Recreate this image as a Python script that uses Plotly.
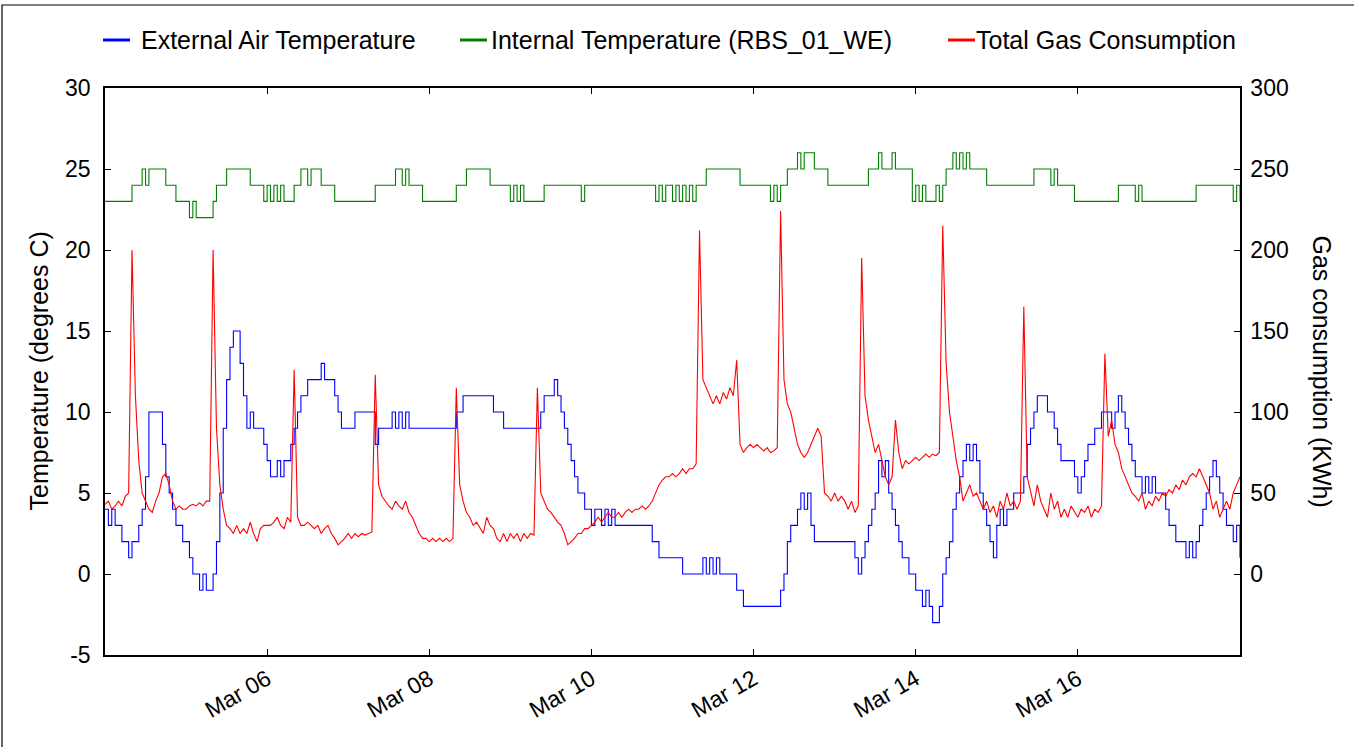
import pandas as pd
import plotly.graph_objects as go

# ---------------- data (hourly, Mar 4 00:00 -> Mar 18 00:00) ----------------
start_date = "2014-03-04 00:00"

ext_temp = [
    4, 3, 4, 3, 3, 2, 2, 1, 2, 2, 3, 4, 6, 10, 10, 10, 10, 8, 6, 5, 4, 3, 3, 2,          # Mar 4
    2, 1, 0, 0, -1, 0, -1, -1, 0, 2, 5, 9, 12, 14, 15, 15, 13, 11, 9, 10, 9, 9, 9, 8,    # Mar 5
    7, 6, 6, 7, 6, 7, 7, 8, 9, 10, 11, 11, 12, 12, 12, 12, 13, 12, 12, 12, 11, 10, 9, 9, # Mar 6
    9, 9, 10, 10, 10, 10, 10, 10, 8, 9, 9, 9, 9, 10, 9, 10, 9, 10, 9, 9, 9, 9, 9, 9,     # Mar 7
    9, 9, 9, 9, 9, 9, 9, 9, 10, 10, 11, 11, 11, 11, 11, 11, 11, 11, 11, 10, 10, 10, 9, 9, # Mar 8
    9, 9, 9, 9, 9, 9, 9, 9, 9, 10, 11, 11, 11, 12, 11, 10, 9, 8, 7, 6, 5, 5, 4, 4,       # Mar 9
    3, 4, 4, 3, 4, 3, 4, 3, 3, 3, 3, 3, 3, 3, 3, 3, 3, 3, 2, 2, 1, 1, 1, 1,              # Mar 10
    1, 1, 1, 0, 0, 0, 0, 0, 0, 1, 0, 1, 0, 1, 0, 0, 0, 0, 0, -1, -1, -2, -2, -2,         # Mar 11
    -2, -2, -2, -2, -2, -2, -2, -2, -1, 0, 2, 3, 3, 4, 5, 4, 5, 3, 2, 2, 2, 2, 2, 2,     # Mar 12
    2, 2, 2, 2, 2, 2, 1, 0, 1, 2, 3, 4, 5, 7, 6, 7, 5, 4, 3, 2, 1, 1, 0, 0,              # Mar 13
    -1, -1, -2, -1, -2, -3, -3, -2, 0, 1, 2, 4, 5, 6, 7, 8, 7, 8, 7, 5, 4, 3, 2, 1,      # Mar 14
    3, 4, 3, 4, 4, 5, 5, 5, 6, 8, 9, 10, 11, 11, 11, 10, 10, 9, 8, 7, 7, 7, 7, 6,        # Mar 15
    5, 6, 7, 8, 8, 9, 9, 10, 10, 10, 9, 10, 11, 10, 9, 8, 7, 6, 6, 5, 6, 5, 6, 5,        # Mar 16
    5, 5, 4, 3, 3, 2, 2, 2, 1, 2, 1, 2, 3, 4, 5, 6, 7, 6, 5, 4, 3, 3, 2, 3,              # Mar 17
    1,
]

int_temp = [
    23, 23, 23, 23, 23, 23, 23, 23, 24, 24, 24, 25, 24, 25, 25, 25, 25, 25, 24, 24, 24, 23, 23, 23,  # Mar 4
    23, 22, 23, 22, 22, 22, 22, 22, 23, 24, 24, 24, 25, 25, 25, 25, 25, 25, 25, 24, 24, 24, 24, 23,  # Mar 5
    24, 23, 24, 23, 24, 23, 23, 23, 24, 24, 25, 25, 24, 25, 25, 25, 24, 24, 24, 24, 23, 23, 23, 23,  # Mar 6
    23, 23, 23, 23, 23, 23, 23, 23, 24, 24, 24, 24, 24, 24, 25, 25, 24, 25, 24, 24, 24, 24, 23, 23,  # Mar 7
    23, 23, 23, 23, 23, 23, 23, 23, 24, 24, 24, 25, 25, 25, 25, 25, 25, 25, 24, 24, 24, 24, 24, 24,  # Mar 8
    23, 24, 23, 24, 23, 23, 23, 23, 23, 23, 24, 24, 24, 24, 24, 24, 24, 24, 24, 24, 24, 23, 24, 24,  # Mar 9
    24, 24, 24, 24, 24, 24, 24, 24, 24, 24, 24, 24, 24, 24, 24, 24, 24, 24, 24, 23, 24, 23, 24, 24,  # Mar 10
    23, 24, 23, 24, 23, 24, 23, 24, 24, 24, 25, 25, 25, 25, 25, 25, 25, 25, 25, 25, 24, 24, 24, 24,  # Mar 11
    24, 24, 24, 24, 24, 23, 24, 23, 24, 24, 25, 25, 25, 26, 25, 26, 26, 26, 25, 25, 25, 25, 24, 24,  # Mar 12
    24, 24, 24, 24, 24, 24, 24, 24, 24, 24, 25, 25, 25, 26, 25, 25, 25, 26, 25, 25, 25, 25, 25, 23,  # Mar 13
    24, 23, 24, 23, 23, 23, 24, 23, 24, 25, 25, 26, 25, 26, 25, 26, 25, 25, 25, 25, 25, 24, 24, 24,  # Mar 14
    24, 24, 24, 24, 24, 24, 24, 24, 24, 24, 24, 25, 25, 25, 25, 25, 24, 25, 24, 24, 24, 24, 24, 23,  # Mar 15
    23, 23, 23, 23, 23, 23, 23, 23, 23, 23, 23, 23, 24, 24, 24, 24, 24, 23, 24, 23, 23, 23, 23, 23,  # Mar 16
    23, 23, 23, 23, 23, 23, 23, 23, 23, 23, 23, 24, 24, 24, 24, 24, 24, 24, 24, 24, 24, 24, 23, 24,  # Mar 17
    23,
]

gas = [
    43, 45, 40, 42, 45, 42, 48, 50, 200, 110, 70, 50, 45, 40, 38, 45, 50, 60, 62, 55, 45, 40, 42, 40,          # Mar 4
    40, 42, 43, 42, 44, 42, 45, 45, 200, 90, 55, 40, 30, 28, 25, 30, 25, 28, 25, 32, 25, 20, 28, 30,           # Mar 5
    30, 30, 32, 35, 30, 28, 35, 32, 126, 35, 30, 30, 32, 30, 28, 30, 25, 28, 30, 25, 22, 18, 20, 22,           # Mar 6
    25, 22, 25, 23, 25, 24, 25, 26, 123, 55, 48, 45, 42, 40, 45, 42, 40, 45, 38, 35, 30, 25, 22, 22,           # Mar 7
    20, 22, 20, 22, 20, 22, 20, 22, 115, 55, 45, 38, 35, 30, 32, 28, 25, 35, 30, 28, 22, 20, 25, 20,           # Mar 8
    25, 22, 25, 20, 25, 22, 25, 24, 115, 50, 45, 40, 38, 35, 32, 30, 25, 18, 20, 22, 25, 25, 28, 28,           # Mar 9
    30, 32, 35, 32, 35, 38, 35, 35, 38, 35, 38, 40, 38, 40, 40, 42, 40, 42, 45, 50, 55, 58, 60, 60,            # Mar 10
    62, 60, 62, 65, 62, 65, 65, 68, 212, 120, 115, 110, 105, 110, 105, 112, 108, 115, 110, 132, 80, 75, 78, 80, # Mar 11
    78, 80, 78, 76, 78, 75, 76, 78, 224, 120, 105, 100, 90, 80, 75, 72, 75, 80, 85, 90, 85, 50, 48, 45,        # Mar 12
    50, 45, 48, 45, 40, 45, 38, 42, 195, 110, 95, 85, 75, 80, 70, 60, 55, 60, 95, 75, 65, 70, 68, 70,          # Mar 13
    72, 70, 72, 74, 72, 74, 73, 75, 215, 130, 100, 85, 70, 60, 45, 50, 55, 48, 50, 45, 40, 45, 38, 42,         # Mar 14
    35, 45, 40, 50, 42, 45, 40, 45, 165, 60, 50, 42, 55, 45, 40, 35, 50, 40, 45, 35, 40, 35, 42, 38,           # Mar 15
    35, 40, 38, 42, 35, 40, 38, 42, 136, 85, 95, 80, 75, 65, 60, 55, 50, 48, 45, 50, 40, 45, 42, 48,           # Mar 16
    45, 50, 48, 52, 50, 55, 52, 58, 55, 60, 62, 60, 65, 60, 55, 50, 40, 45, 35, 40, 45, 40, 50, 55,            # Mar 17
    60,
]

tick_dates = ["2014-03-06", "2014-03-08", "2014-03-10", "2014-03-12", "2014-03-14", "2014-03-16"]
tick_labels = ["Mar 06", "Mar 08", "Mar 10", "Mar 12", "Mar 14", "Mar 16"]
temp_ticks = [-5, 0, 5, 10, 15, 20, 25, 30]
temp_tick_labels = ["-5", "0", "5", "10", "15", "20", "25", "30"]
gas_ticks = [0, 50, 100, 150, 200, 250, 300]
gas_tick_labels = ["0", "50", "100", "150", "200", "250", "300"]

series_names = ["External Air Temperature", "Internal Temperature (RBS_01_WE)", "Total Gas Consumption"]
series_colors = ["#0000ff", "#008000", "#ff0000"]

times = pd.date_range(start_date, periods=len(gas), freq="h")

FONT = "Liberation Sans, Arial, Helvetica, sans-serif"

fig = go.Figure()
fig.add_trace(go.Scatter(x=times, y=ext_temp, mode="lines", name=series_names[0],
                         line=dict(color=series_colors[0], width=1.1, shape="hv"), yaxis="y"))
fig.add_trace(go.Scatter(x=times, y=int_temp, mode="lines", name=series_names[1],
                         line=dict(color=series_colors[1], width=1.1, shape="hv"), yaxis="y"))
fig.add_trace(go.Scatter(x=times, y=gas, mode="lines", name=series_names[2],
                         line=dict(color=series_colors[2], width=1.1), yaxis="y2"))

W, H = 1354, 747
L, R, T, B = 105, 114, 88, 92
pw, ph = W - L - R, H - T - B


def px(xp):
    return (xp - L) / pw


def py(yp):
    return (H - B - yp) / ph


fig.update_layout(
    width=W, height=H,
    margin=dict(l=L, r=R, t=T, b=B),
    paper_bgcolor="white", plot_bgcolor="white",
    font=dict(family=FONT, size=22, color="black"),
    showlegend=False,
    xaxis=dict(
        type="date",
        range=["2014-03-04 00:00", "2014-03-18 00:00"],
        tickvals=tick_dates, ticktext=tick_labels,
        tickangle=-30,
        tickfont=dict(size=23),
        ticks="inside", ticklen=6, tickcolor="black",
        showline=True, linecolor="black", linewidth=1.5, mirror="ticks",
        showgrid=False, zeroline=False,
    ),
    yaxis=dict(
        range=[-5, 30], tickvals=temp_ticks, ticktext=temp_tick_labels,
        ticks="inside", ticklen=6, tickcolor="black",
        showline=True, linecolor="black", linewidth=1.5,
        showgrid=False, zeroline=False,
        tickfont=dict(size=23), ticklabelstandoff=8,
    ),
    yaxis2=dict(
        range=[-50, 300], tickvals=gas_ticks, ticktext=gas_tick_labels,
        overlaying="y", side="right",
        ticks="inside", ticklen=6, tickcolor="black",
        showline=True, linecolor="black", linewidth=1.5,
        showgrid=False, zeroline=False,
        tickfont=dict(size=23), ticklabelstandoff=4,
    ),
)

# axis titles
fig.add_annotation(text="Temperature (degrees C)", xref="paper", yref="paper",
                   x=px(38), y=0.5, textangle=-90, showarrow=False,
                   font=dict(size=25), xanchor="center", yanchor="middle")
fig.add_annotation(text="Gas consumption (KWh)", xref="paper", yref="paper",
                   x=px(1322), y=0.5, textangle=90, showarrow=False,
                   font=dict(size=25), xanchor="center", yanchor="middle")

# legend drawn across the top (expanded layout)
legend_sym_x = [103, 460, 948]
legend_text_x = [139, 489, 974]
leg_y = py(40)
for i in range(3):
    fig.add_shape(type="line", xref="paper", yref="paper",
                  x0=px(legend_sym_x[i]), x1=px(legend_sym_x[i] + 27), y0=leg_y, y1=leg_y,
                  line=dict(color=series_colors[i], width=3))
    fig.add_annotation(text=series_names[i], xref="paper", yref="paper",
                       x=px(legend_text_x[i]), y=leg_y, xanchor="left", yanchor="middle",
                       showarrow=False, font=dict(size=25))

# outer figure frame
fig.add_shape(type="rect", xref="paper", yref="paper",
              x0=px(2), x1=px(1362), y0=py(755), y1=py(5),
              line=dict(color="black", width=1.2), fillcolor="rgba(0,0,0,0)", layer="below")

fig.write_html("out.html")
